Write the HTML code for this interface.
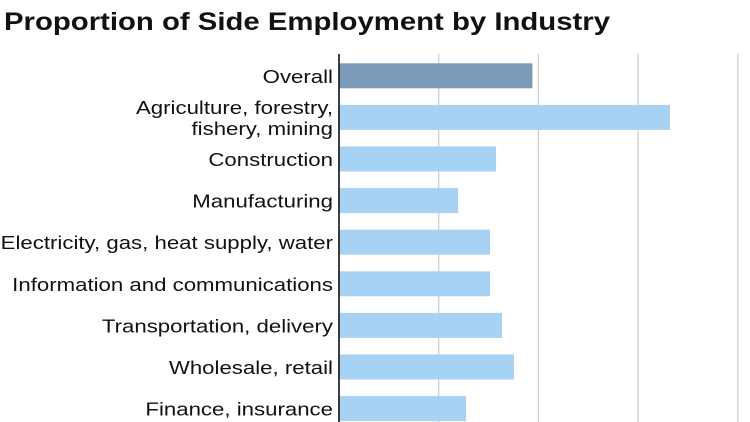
<!DOCTYPE html>
<html><head><meta charset="utf-8"><style>
html,body{margin:0;padding:0;background:#fff;}
svg{display:block;font-family:"Liberation Sans",Arial,sans-serif;}
</style></head><body>
<svg id="chart" width="750" height="422" viewBox="0 0 750 422">
<text x="4" y="30" font-size="25" font-weight="bold" fill="#111" textLength="606" lengthAdjust="spacingAndGlyphs">Proportion of Side Employment by Industry</text>
<g id="grid"></g><g id="bars"></g><g id="labels"></g>
<line x1="339" y1="54" x2="339" y2="422" stroke="#111" stroke-width="1.6"/>
</svg>
<script>
const categories = [["Overall"],["Agriculture, forestry,","fishery, mining"],["Construction"],["Manufacturing"],["Electricity, gas, heat supply, water"],["Information and communications"],["Transportation, delivery"],["Wholesale, retail"],["Finance, insurance"]];
const values = [3.88, 6.64, 3.15, 2.39, 3.03, 3.03, 3.27, 3.51, 2.55];
const gridTicks = [2, 4, 6, 8];
const NS = "http://www.w3.org/2000/svg";
const x0 = 339, pxPerUnit = 49.85;
function xScale(v){ return x0 + v * pxPerUnit; }
function yCenter(i){ return 75.8 + i * 41.6; }
const grid = document.getElementById('grid');
gridTicks.forEach(t=>{
  const l = document.createElementNS(NS,'line');
  l.setAttribute('x1', xScale(t)); l.setAttribute('x2', xScale(t));
  l.setAttribute('y1', 54); l.setAttribute('y2', 422);
  l.setAttribute('stroke', '#cfcfcf'); l.setAttribute('stroke-width', '1.3');
  
  
  grid.appendChild(l);
});
const bars = document.getElementById('bars'), labels = document.getElementById('labels');
values.forEach((v,i)=>{
  const r = document.createElementNS(NS,'rect');
  r.setAttribute('x', x0); r.setAttribute('y', yCenter(i) - 12.5);
  r.setAttribute('width', xScale(v) - x0); r.setAttribute('height', 25);
  r.setAttribute('fill', i === 0 ? '#7b9cb8' : '#a8d2f3');
  
  
  bars.appendChild(r);
  const lines = categories[i];
  lines.forEach((s,j)=>{
    const t = document.createElementNS(NS,'text');
    t.setAttribute('x', 333);
    t.setAttribute('y', yCenter(i) + 7 + (j - (lines.length-1)/2) * 21);
    t.setAttribute('text-anchor', 'end'); t.setAttribute('font-size', '18.5'); t.setAttribute('fill', '#111');
    t.textContent = s;
    
    
    labels.appendChild(t);
    const w = t.getComputedTextLength();
    t.setAttribute('textLength', (w * 1.2).toFixed(1));
    t.setAttribute('lengthAdjust', 'spacingAndGlyphs');
  });
});
</script>
</body></html>
